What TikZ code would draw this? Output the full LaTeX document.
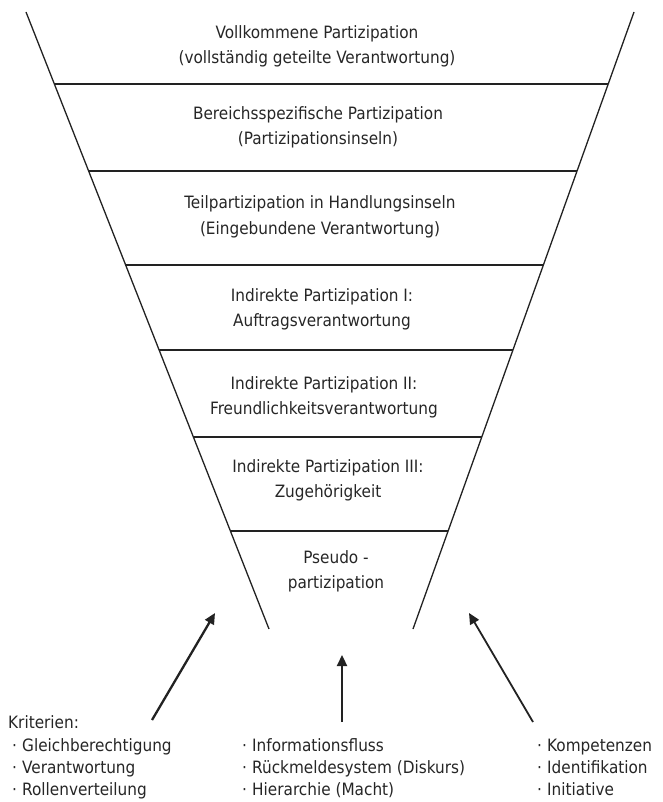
\documentclass[tikz,border=0pt]{standalone}
\usepackage{fontspec}
\setmainfont{DejaVu Sans Condensed}
\usetikzlibrary{arrows.meta}
\definecolor{ink}{HTML}{222222}
\definecolor{txt}{HTML}{262626}
\begin{document}
\begin{tikzpicture}[x=1pt,y=-1pt,
  funnel/.style={draw=ink, line width=1.3pt},
  band/.style={draw=ink, line width=1.5pt},
  lbl/.style={text=txt, align=center, inner sep=0pt, anchor=base,
    font=\fontsize{17}{25}\selectfont},
  item/.style={text=txt, inner sep=0pt, anchor=base west,
    font=\fontsize{17}{22}\selectfont},
  bigarrow/.style={draw=ink, line width=2.3pt, -{Triangle[length=11pt,width=10pt]}},
  thinarrow/.style={draw=ink, line width=1.8pt, -{Triangle[length=11pt,width=10pt]}}
]
\useasboundingbox (0,0) rectangle (662,802);
% funnel sides
\coordinate (tl) at (26,12);
\coordinate (bl) at (269,629);
\coordinate (tr) at (634,12);
\coordinate (br) at (413,629);
\draw[funnel] (tl) -- (bl);
\draw[funnel] (tr) -- (br);
% horizontal band lines
\coordinate (l1) at (54.4,84);   \coordinate (r1) at (608.2,84);
\coordinate (l2) at (88.6,171);  \coordinate (r2) at (577.0,171);
\coordinate (l3) at (125.6,265); \coordinate (r3) at (543.4,265);
\coordinate (l4) at (159.1,350); \coordinate (r4) at (512.9,350);
\coordinate (l5) at (193.4,437); \coordinate (r5) at (481.8,437);
\coordinate (l6) at (230.4,531); \coordinate (r6) at (448.1,531);
\foreach \i in {1,...,6} \draw[band] (l\i) -- (r\i);
% band texts (anchor = baseline of the last line)
\node[lbl] (b1) at (317,64) {Vollkommene Partizipation\\(vollständig geteilte Verantwortung)};
\node[lbl] (b2) at (318,145) {Bereichsspezifische Partizipation\\(Partizipationsinseln)};
\node[lbl] (b3) at (320,234) {Teilpartizipation in Handlungsinseln\\(Eingebundene Verantwortung)};
\node[lbl] (b4) at (322,326) {Indirekte Partizipation I:\\Auftragsverantwortung};
\node[lbl] (b5) at (324,414) {Indirekte Partizipation II:\\Freundlichkeitsverantwortung};
\node[lbl] (b6) at (328,497) {Indirekte Partizipation III:\\Zugehörigkeit};
\node[lbl] (b7) at (336,588) {Pseudo -\\partizipation};
% arrows
\coordinate (a1s) at (152,720); \coordinate (a1e) at (215,613);
\coordinate (a2s) at (342,722); \coordinate (a2e) at (342,655);
\coordinate (a3s) at (533,722); \coordinate (a3e) at (469,613);
\draw[bigarrow] (a1s) -- (a1e);
\draw[bigarrow] (a2s) -- (a2e);
\draw[thinarrow] (a3s) -- (a3e);
% criteria lists
\newcommand{\blt}{\makebox[10pt][l]{·}}
\node[item] (k0) at (8,728) {Kriterien:};
\node[item] (k1) at (12,751) {\blt Gleichberechtigung};
\node[item] (k2) at (12,773) {\blt Verantwortung};
\node[item] (k3) at (12,795) {\blt Rollenverteilung};
\node[item] (m1) at (242,751) {\blt Informationsfluss};
\node[item] (m2) at (242,773) {\blt Rückmeldesystem (Diskurs)};
\node[item] (m3) at (242,795) {\blt Hierarchie (Macht)};
\node[item] (n1) at (537,751) {\blt Kompetenzen};
\node[item] (n2) at (537,773) {\blt Identifikation};
\node[item] (n3) at (537,795) {\blt Initiative};
\end{tikzpicture}
\end{document}
